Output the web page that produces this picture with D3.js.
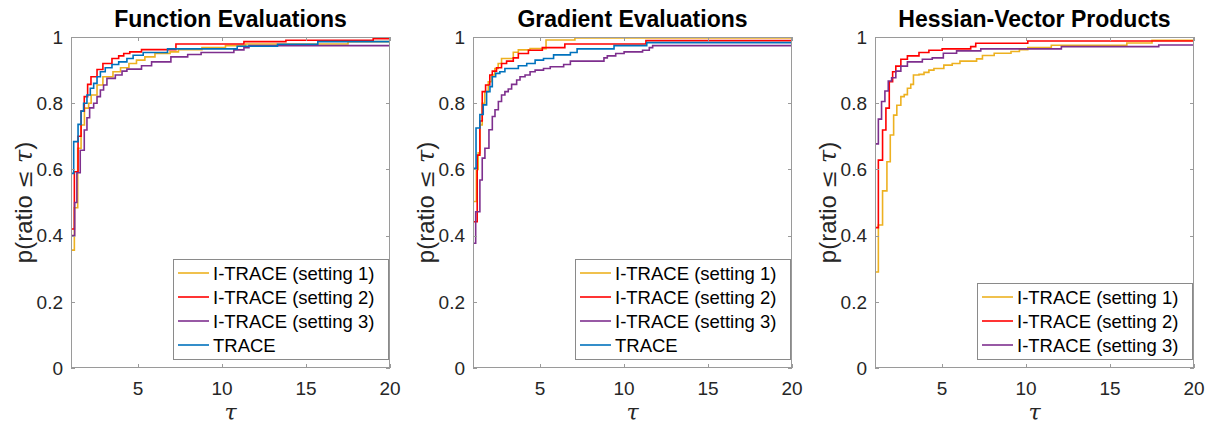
<!DOCTYPE html>
<html><head><meta charset="utf-8">
<script src="https://cdn.jsdelivr.net/npm/d3@7"></script>
<style>
body{margin:0;background:#fff;}
svg{display:block;font-family:"Liberation Sans",Arial,Helvetica,sans-serif;}
</style>
</head><body>
<svg id="chart" width="1211" height="425"></svg>
<script>
// ---------- data ----------
const panelTitles = ["Function Evaluations", "Gradient Evaluations", "Hessian-Vector Products"];
const seriesNames = ["I-TRACE (setting 1)", "I-TRACE (setting 2)", "I-TRACE (setting 3)", "TRACE"];
const seriesColors = ["#EDB120", "#FF0000", "#7E2F8E", "#0072BD"];
const xTicks = [5, 10, 15, 20];
const yTicks = [0, 0.2, 0.4, 0.6, 0.8, 1];

// Function evaluations: [tau, p]
const funcSetting1 = [[1,0.356],[1.2,0.484],[1.4,0.664],[1.6,0.734],[1.8,0.785],[2.05,0.80],[2.2,0.825],[2.55,0.855],[2.9,0.88],[3.5,0.895],[3.95,0.907],[4.45,0.92],[4.9,0.93],[5.4,0.94],[6.0,0.95],[6.9,0.955],[7.4,0.962],[8.8,0.968],[10.2,0.974],[11.4,0.979],[17.5,0.986],[20,0.986]];
const funcSetting2 = [[1,0.42],[1.2,0.593],[1.42,0.70],[1.6,0.776],[1.79,0.82],[1.99,0.857],[2.19,0.88],[2.55,0.902],[2.9,0.92],[3.44,0.935],[3.84,0.943],[4.14,0.95],[4.5,0.955],[5.2,0.962],[7.25,0.979],[11.3,0.986],[13.8,0.99],[19,0.995],[20,0.995]];
const funcSetting3 = [[1,0.40],[1.22,0.50],[1.35,0.59],[1.55,0.658],[1.79,0.719],[1.95,0.756],[2.11,0.786],[2.35,0.80],[2.55,0.82],[2.75,0.84],[2.94,0.855],[3.14,0.875],[3.64,0.885],[4.04,0.897],[4.33,0.903],[5.2,0.913],[5.8,0.925],[6.95,0.94],[7.95,0.947],[8.75,0.953],[10.7,0.961],[11.3,0.968],[11.6,0.974],[20,0.974]];
const funcTrace    = [[1,0.588],[1.16,0.684],[1.42,0.736],[1.6,0.776],[1.75,0.80],[1.95,0.825],[2.15,0.845],[2.35,0.86],[2.55,0.88],[2.75,0.895],[3.04,0.907],[3.44,0.917],[3.84,0.925],[4.33,0.935],[4.7,0.945],[5.3,0.953],[6.75,0.964],[10.9,0.972],[13.3,0.978],[15.7,0.986],[20,0.986]];

// Gradient evaluations
const gradSetting1 = [[1,0.503],[1.2,0.60],[1.31,0.65],[1.41,0.734],[1.55,0.80],[1.7,0.835],[1.91,0.865],[2.11,0.885],[2.3,0.905],[2.5,0.92],[2.7,0.935],[3.4,0.954],[3.7,0.961],[4.4,0.965],[5.35,0.991],[7.07,0.997],[20,0.997]];
const gradSetting2 = [[1,0.442],[1.25,0.643],[1.41,0.746],[1.55,0.835],[1.75,0.855],[2.0,0.885],[2.15,0.897],[2.4,0.907],[2.7,0.92],[3.0,0.927],[3.4,0.937],[3.7,0.95],[4.3,0.96],[5.13,0.968],[6.47,0.979],[11.3,0.989],[20,0.989]];
const gradSetting3 = [[1,0.377],[1.16,0.472],[1.41,0.568],[1.55,0.634],[1.71,0.664],[1.95,0.72],[2.15,0.76],[2.31,0.78],[2.51,0.805],[2.7,0.825],[2.9,0.835],[3.1,0.843],[3.3,0.857],[3.6,0.87],[3.8,0.88],[4.1,0.885],[4.4,0.895],[4.7,0.90],[5.2,0.905],[5.6,0.91],[6.4,0.917],[6.8,0.927],[8.8,0.937],[9.0,0.943],[9.5,0.95],[10.0,0.955],[11.1,0.96],[11.5,0.968],[11.7,0.974],[20,0.974]];
const gradTrace    = [[1,0.603],[1.18,0.725],[1.41,0.766],[1.61,0.795],[1.81,0.835],[2.01,0.85],[2.15,0.88],[2.35,0.89],[2.6,0.895],[2.9,0.905],[3.7,0.913],[4.2,0.92],[4.7,0.93],[5.2,0.935],[5.8,0.946],[6.8,0.953],[7.2,0.964],[9.4,0.974],[11.35,0.983],[20,0.983]];

// Hessian-vector products
const hessSetting1 = [[1,0.29],[1.2,0.432],[1.45,0.535],[1.71,0.623],[1.91,0.704],[2.11,0.764],[2.3,0.794],[2.54,0.82],[2.74,0.826],[2.93,0.845],[3.13,0.857],[3.29,0.885],[3.62,0.887],[3.92,0.893],[4.21,0.90],[4.51,0.905],[5.1,0.915],[5.6,0.92],[6.06,0.927],[7.05,0.934],[7.4,0.944],[8.1,0.951],[9.1,0.956],[9.6,0.962],[10.1,0.968],[11.5,0.975],[16.0,0.982],[17.5,0.99],[20,0.99]];
const hessSetting2 = [[1,0.424],[1.2,0.628],[1.45,0.719],[1.65,0.785],[1.85,0.865],[2.05,0.895],[2.24,0.912],[2.54,0.933],[2.93,0.943],[3.62,0.953],[4.21,0.96],[5.0,0.964],[6.7,0.971],[7.0,0.981],[10.1,0.988],[20,0.988]];
const hessSetting3 = [[1,0.677],[1.2,0.752],[1.39,0.805],[1.59,0.837],[1.79,0.867],[1.99,0.877],[2.24,0.897],[2.54,0.912],[2.93,0.925],[3.82,0.933],[4.41,0.937],[5.07,0.951],[5.86,0.958],[7.3,0.964],[12.1,0.971],[17.9,0.976],[20,0.976]];

const panelSeries = [
  [funcSetting1, funcSetting2, funcSetting3, funcTrace],
  [gradSetting1, gradSetting2, gradSetting3, gradTrace],
  [hessSetting1, hessSetting2, hessSetting3]
];

// ---------- layout ----------
const svg = d3.select("#chart");
const plotW = 319, plotTop = 37, plotBottom = 368;
const panelLefts = [71, 473, 875];
const axisColor = "#9a9a9a", textColor = "#262626";
const tickLen = 4;

panelSeries.forEach((seriesList, pi) => {
  const left = panelLefts[pi];
  const x = d3.scaleLinear().domain([1, 20]).range([left, left + plotW]);
  const y = d3.scaleLinear().domain([0, 1]).range([plotBottom, plotTop]);
  const g = svg.append("g");

  g.append("rect").attr("x", left).attr("y", plotTop).attr("width", plotW).attr("height", plotBottom - plotTop).attr("fill", "#fff");

  const clipId = "clip" + pi;
  svg.append("clipPath").attr("id", clipId).append("rect")
    .attr("x", left).attr("y", plotTop - 1).attr("width", plotW).attr("height", plotBottom - plotTop + 1);

  const line = d3.line().x(d => x(d[0])).y(d => y(d[1])).curve(d3.curveStepAfter);
  seriesList.forEach((data, si) => {
    g.append("path").datum(data).attr("d", line)
      .attr("fill", "none").attr("stroke", seriesColors[si]).attr("stroke-width", 1.6)
      .attr("clip-path", `url(#${clipId})`);
  });

  // axes box
  const box = g.append("g").attr("stroke", axisColor).attr("stroke-width", 1).attr("fill", "none");
  box.append("rect").attr("x", left + 0.5).attr("y", plotTop + 0.5).attr("width", plotW - 1).attr("height", plotBottom - plotTop - 1);

  // ticks (inward, mirrored)
  xTicks.forEach(t => {
    const xx = Math.round(x(t)) + 0.5;
    box.append("line").attr("x1", xx).attr("x2", xx).attr("y1", plotBottom).attr("y2", plotBottom - tickLen);
    box.append("line").attr("x1", xx).attr("x2", xx).attr("y1", plotTop).attr("y2", plotTop + tickLen);
  });
  yTicks.forEach(t => {
    const yy = Math.round(y(t)) + 0.5;
    box.append("line").attr("x1", left).attr("x2", left + tickLen).attr("y1", yy).attr("y2", yy);
    box.append("line").attr("x1", left + plotW).attr("x2", left + plotW - tickLen).attr("y1", yy).attr("y2", yy);
  });

  // tick labels
  g.selectAll(".xt").data(xTicks).enter().append("text")
    .attr("x", d => x(d)).attr("y", 395).attr("text-anchor", "middle")
    .attr("font-size", 19).attr("fill", textColor).text(d => d);
  g.selectAll(".yt").data(yTicks).enter().append("text")
    .attr("x", left - 8).attr("y", d => y(d)).attr("dy", "0.36em").attr("text-anchor", "end")
    .attr("font-size", 19).attr("fill", textColor).text(d => d3.format("~g")(d));

  // title
  g.append("text").attr("x", left + plotW / 2).attr("y", 27).attr("text-anchor", "middle")
    .attr("font-size", 23).attr("font-weight", "bold").attr("fill", "#000").text(panelTitles[pi]);

  // y label
  const yl = g.append("text").attr("transform", `translate(${left - 39},${(plotTop + plotBottom) / 2}) rotate(-90)`)
    .attr("text-anchor", "middle").attr("font-size", 24).attr("fill", textColor);
  yl.append("tspan").text("p(ratio ");
  yl.append("tspan").attr("font-family", "DejaVu Serif, serif").attr("font-size", 22).text("\u2264 ");
  yl.append("tspan").attr("font-family", "DejaVu Serif, serif").attr("font-style", "italic").text("\u03C4");
  yl.append("tspan").text(")");

  // x label
  g.append("text").attr("x", left + plotW / 2).attr("y", 420).attr("text-anchor", "middle")
    .attr("font-family", "DejaVu Serif, serif").attr("font-style", "italic").attr("font-size", 22)
    .attr("fill", textColor).text("\u03C4");

  // legend
  const n = seriesList.length;
  const rowH = 24;
  const lgRight = left + plotW - 2, lgBottom = plotBottom - 9;
  const lgW = 215, lgH = n * rowH + 4;
  const lgLeft = lgRight - lgW, lgTop = lgBottom - lgH;
  const lg = g.append("g");
  lg.append("rect").attr("x", lgLeft + 0.5).attr("y", lgTop + 0.5).attr("width", lgW).attr("height", lgH)
    .attr("fill", "#fff").attr("stroke", "#8a8a8a").attr("stroke-width", 1);
  seriesList.forEach((d, si) => {
    const cy = lgTop + 14 + si * rowH;
    lg.append("line").attr("x1", lgLeft + 5).attr("x2", lgLeft + 36).attr("y1", cy).attr("y2", cy)
      .attr("stroke", seriesColors[si]).attr("stroke-width", 1.6);
    lg.append("text").attr("x", lgLeft + 40).attr("y", cy).attr("dy", "0.36em")
      .attr("font-size", 18.5).attr("fill", "#000").text(seriesNames[si]);
  });
});
</script>
</body></html>
